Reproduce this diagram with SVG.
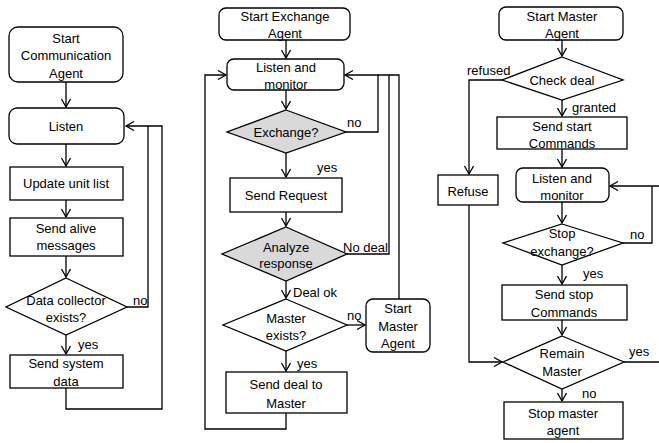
<svg xmlns="http://www.w3.org/2000/svg" width="659" height="443" viewBox="0 0 659 443">
<defs>
<marker id="arr" markerUnits="userSpaceOnUse" markerWidth="12" markerHeight="12" refX="9" refY="5" orient="auto">
<path d="M1,0.5 L9,5 L1,9.5" fill="none" stroke="#000" stroke-width="1.3"/>
</marker>
<style>
.b{fill:#fff;stroke:#000;stroke-width:1.3}
.g{fill:#d9d9d9;stroke:#000;stroke-width:1.3}
text{font-family:"Liberation Sans",Arial,sans-serif;font-size:13px;fill:#000;text-anchor:middle}
.l{text-anchor:start}
.c{fill:none;stroke:#000;stroke-width:1.3}
</style>
</defs>
<rect width="659" height="443" fill="#fff"/>
<g id="connectors">
<path class="c" d="M66,82V107" marker-end="url(#arr)"/>
<path class="c" d="M66,144V166" marker-end="url(#arr)"/>
<path class="c" d="M66,200V217" marker-end="url(#arr)"/>
<path class="c" d="M66,256V277" marker-end="url(#arr)"/>
<path class="c" d="M127,307H148V126H126" marker-end="url(#arr)"/>
<path class="c" d="M66,335V354" marker-end="url(#arr)"/>
<path class="c" d="M66,388V409H162V126H148"/>
<path class="c" d="M286,40V58" marker-end="url(#arr)"/>
<path class="c" d="M286,413V429H205V75H226" marker-end="url(#arr)"/>
<path class="c" d="M286,90V109" marker-end="url(#arr)"/>
<path class="c" d="M346,132H378V75H345" marker-end="url(#arr)"/>
<path class="c" d="M286,153V177" marker-end="url(#arr)"/>
<path class="c" d="M286,212V226" marker-end="url(#arr)"/>
<path class="c" d="M347,254H389V75H378"/>
<path class="c" d="M286,281V298" marker-end="url(#arr)"/>
<path class="c" d="M347,325H365" marker-end="url(#arr)"/>
<path class="c" d="M399,299V75H389"/>
<path class="c" d="M286,351V371" marker-end="url(#arr)"/>
<path class="c" d="M562,40V56" marker-end="url(#arr)"/>
<path class="c" d="M502,80H469V174" marker-end="url(#arr)"/>
<path class="c" d="M562,100V116" marker-end="url(#arr)"/>
<path class="c" d="M562,149V167" marker-end="url(#arr)"/>
<path class="c" d="M562,202V223" marker-end="url(#arr)"/>
<path class="c" d="M623,243H652V186"/>
<path class="c" d="M659,186H610" marker-end="url(#arr)"/>
<path class="c" d="M562,265V284" marker-end="url(#arr)"/>
<path class="c" d="M562,320V335" marker-end="url(#arr)"/>
<path class="c" d="M469,205V362H502" marker-end="url(#arr)"/>
<path class="c" d="M624,362H659"/>
<path class="c" d="M562,389V401" marker-end="url(#arr)"/>
</g>
<g id="labels">
<text class="l" x="133" y="305">no</text>
<text class="l" x="78" y="349">yes</text>
<text class="l" x="347" y="127">no</text>
<text class="l" x="317" y="172">yes</text>
<text class="l" x="343" y="252">No deal</text>
<text class="l" x="293" y="297">Deal ok</text>
<text class="l" x="347" y="320">no</text>
<text class="l" x="297" y="368">yes</text>
<text class="l" x="467" y="75">refused</text>
<text class="l" x="572" y="112">granted</text>
<text class="l" x="630" y="239">no</text>
<text class="l" x="583" y="278">yes</text>
<text class="l" x="629" y="356">yes</text>
<text class="l" x="582" y="398">no</text>
</g>
<g id="startComm"><rect class="b" x="9" y="27" width="114" height="55" rx="9"/><text x="66" y="43">Start</text><text x="66" y="60">Communication</text><text x="66" y="78">Agent</text></g>
<g id="listen"><rect class="b" x="9" y="108" width="115" height="36" rx="8"/><text x="66" y="131">Listen</text></g>
<g id="updateList"><rect class="b" x="10" y="167" width="113" height="33"/><text x="66" y="188">Update unit list</text></g>
<g id="sendAlive"><rect class="b" x="10" y="218" width="113" height="38"/><text x="66" y="233">Send alive</text><text x="66" y="250">messages</text></g>
<g id="dataCollector"><polygon class="b" points="66,278 127,307 66,335 6,307"/><text x="66" y="305">Data collector</text><text x="66" y="322">exists?</text></g>
<g id="sendSystem"><rect class="b" x="10" y="355" width="113" height="33"/><text x="66" y="368">Send system</text><text x="66" y="386">data</text></g>
<g id="startExchange"><rect class="b" x="219" y="8" width="131" height="32" rx="7"/><text x="285" y="21">Start Exchange</text><text x="285" y="38">Agent</text></g>
<g id="listenMonitor1"><rect class="b" x="227" y="59" width="117" height="31" rx="7"/><text x="286" y="72">Listen and</text><text x="286" y="89">monitor</text></g>
<g id="exchange"><polygon class="g" points="286,110 346,132 286,153 227,132"/><text x="286" y="137">Exchange?</text></g>
<g id="sendRequest"><rect class="b" x="230" y="178" width="112" height="34"/><text x="286" y="200">Send Request</text></g>
<g id="analyze"><polygon class="g" points="286,227 347,254 286,281 222,254"/><text x="286" y="252">Analyze</text><text x="286" y="268">response</text></g>
<g id="masterExists"><polygon class="b" points="286,299 347,325 286,351 223,325"/><text x="286" y="323">Master</text><text x="286" y="340">exists?</text></g>
<g id="startMasterSmall"><rect class="b" x="366" y="299" width="64" height="53" rx="7"/><text x="398" y="313">Start</text><text x="398" y="331">Master</text><text x="398" y="348">Agent</text></g>
<g id="sendDeal"><rect class="b" x="226" y="372" width="121" height="41"/><text x="286" y="389">Send deal to</text><text x="286" y="408">Master</text></g>
<g id="startMaster"><rect class="b" x="499" y="7" width="124" height="33" rx="7"/><text x="562" y="21">Start Master</text><text x="562" y="38">Agent</text></g>
<g id="checkDeal"><polygon class="b" points="562,57 623,80 562,100 502,80"/><text x="562" y="85">Check deal</text></g>
<g id="sendStart"><rect class="b" x="497" y="117" width="130" height="32"/><text x="562" y="131">Send start</text><text x="562" y="148">Commands</text></g>
<g id="refuse"><rect class="b" x="438" y="175" width="60" height="30"/><text x="468" y="196">Refuse</text></g>
<g id="listenMonitor2"><rect class="b" x="516" y="168" width="93" height="34" rx="7"/><text x="562" y="183">Listen and</text><text x="562" y="200">monitor</text></g>
<g id="stopExchange"><polygon class="b" points="562,224 623,243 562,265 503,243"/><text x="562" y="238">Stop</text><text x="562" y="256">exchange?</text></g>
<g id="sendStop"><rect class="b" x="502" y="285" width="125" height="35"/><text x="564" y="299">Send stop</text><text x="564" y="317">Commands</text></g>
<g id="remainMaster"><polygon class="b" points="562,336 624,362 562,389 503,362"/><text x="562" y="358">Remain</text><text x="562" y="376">Master</text></g>
<g id="stopMaster"><rect class="b" x="504" y="402" width="119" height="37"/><text x="563" y="418">Stop master</text><text x="563" y="435">agent</text></g>
</svg>
